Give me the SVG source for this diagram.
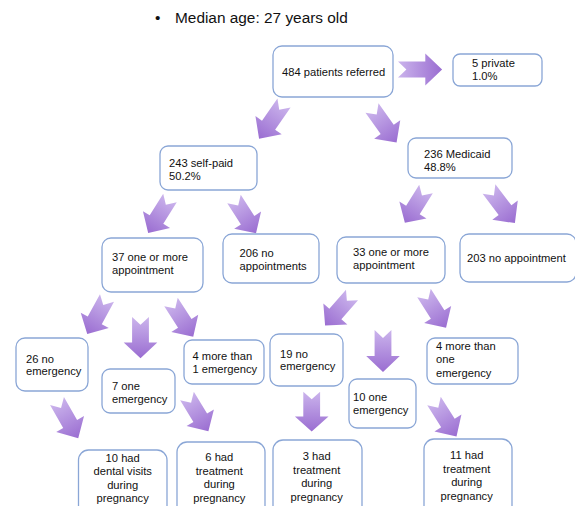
<svg xmlns="http://www.w3.org/2000/svg" xmlns:xlink="http://www.w3.org/1999/xlink" width="575" height="506" viewBox="0 0 575 506">
<style>
text{font-family:"Liberation Sans",Arial,sans-serif;font-size:11.2px;fill:#111}
.b{fill:#fff;stroke:#8aa6d6;stroke-width:1.3}
.c{text-anchor:middle}
.t{font-size:15.4px}
</style>
<defs>
<linearGradient id="g" x1="0" y1="0" x2="1" y2="0">
<stop offset="0" stop-color="#cbb4ec"/>
<stop offset="1" stop-color="#9a6dd1"/>
</linearGradient>
<path id="arr" d="M0,-8 L26,-8 L26,-16 L42,0 L26,16 L26,8 L0,8 L8,0 Z" fill="url(#g)"/>
</defs>
<rect width="575" height="506" fill="#fff"/>
<g id="title">
<text class="t" x="155" y="22.5">•</text>
<text class="t" x="175" y="22.5">Median age: 27 years old</text>
</g>
<g id="connectors">
<use xlink:href="#arr" href="#arr" transform="translate(398,69.5) rotate(0) scale(1.05,1)"/>
<use xlink:href="#arr" href="#arr" transform="translate(284,103) rotate(124.8) scale(1.04,1)"/>
<use xlink:href="#arr" href="#arr" transform="translate(372,108) rotate(54.6) scale(1.01,1)"/>
<use xlink:href="#arr" href="#arr" transform="translate(170,198) rotate(122) scale(0.98,1)"/>
<use xlink:href="#arr" href="#arr" transform="translate(234,199) rotate(57.3) scale(0.97,1)"/>
<use xlink:href="#arr" href="#arr" transform="translate(107,298) rotate(118.7) scale(0.98,1)"/>
<use xlink:href="#arr" href="#arr" transform="translate(140.5,317) rotate(90) scale(0.98,1.05)"/>
<use xlink:href="#arr" href="#arr" transform="translate(171,302) rotate(57.3) scale(0.98,1)"/>
<use xlink:href="#arr" href="#arr" transform="translate(426,189) rotate(122) scale(0.95,1)"/>
<use xlink:href="#arr" href="#arr" transform="translate(489,189) rotate(52.8) scale(1.02,1)"/>
<use xlink:href="#arr" href="#arr" transform="translate(352,295) rotate(131.3) scale(0.97,1)"/>
<use xlink:href="#arr" href="#arr" transform="translate(383,330) rotate(90) scale(1,1.05)"/>
<use xlink:href="#arr" href="#arr" transform="translate(424,293) rotate(57.6) scale(0.98,1)"/>
<use xlink:href="#arr" href="#arr" transform="translate(57,401) rotate(60.3) scale(1.02,1)"/>
<use xlink:href="#arr" href="#arr" transform="translate(187,396) rotate(58.7) scale(0.98,1)"/>
<use xlink:href="#arr" href="#arr" transform="translate(311.7,391.7) rotate(90) scale(0.95,1.05)"/>
<use xlink:href="#arr" href="#arr" transform="translate(434,401) rotate(57.6) scale(1,1)"/>
</g>
<g id="n484"><rect class="b" x="273" y="46" width="120" height="51" rx="9"/><text x="282" y="76">484 patients referred</text></g>
<g id="n5"><rect class="b" x="453" y="54" width="89" height="32" rx="7"/><text x="472" y="67">5 private</text><text x="472" y="80">1.0%</text></g>
<g id="n243"><rect class="b" x="160" y="146" width="97" height="44" rx="8"/><text x="169" y="167">243 self-paid</text><text x="169" y="179.5">50.2%</text></g>
<g id="n236"><rect class="b" x="408" y="138" width="104" height="40" rx="8"/><text x="424" y="158">236 Medicaid</text><text x="424" y="171">48.8%</text></g>
<g id="n37"><rect class="b" x="102" y="238" width="101" height="54" rx="9"/><text x="112" y="261">37 one or more</text><text x="112" y="273.5">appointment</text></g>
<g id="n206"><rect class="b" x="223" y="234" width="96" height="49" rx="9"/><text x="239.5" y="257">206 no</text><text x="239.5" y="270">appointments</text></g>
<g id="n33"><rect class="b" x="337" y="237" width="108" height="46" rx="9"/><text x="353" y="256">33 one or more</text><text x="353" y="268.5">appointment</text></g>
<g id="n203"><rect class="b" x="460" y="234" width="116" height="48" rx="9"/><text x="467" y="261.5">203 no appointment</text></g>
<g id="n26"><rect class="b" x="16" y="338" width="72" height="53" rx="9"/><text x="26" y="362.5">26 no</text><text x="26" y="375">emergency</text></g>
<g id="n4a"><rect class="b" x="184" y="340" width="80" height="44" rx="8"/><text x="192.5" y="360">4 more than</text><text x="192.5" y="373">1 emergency</text></g>
<g id="n19"><rect class="b" x="270" y="334" width="73" height="52" rx="9"/><text x="280" y="357.5">19 no</text><text x="280" y="370">emergency</text></g>
<g id="n4b"><rect class="b" x="427" y="338" width="91" height="46" rx="8"/><text x="436" y="350">4 more than</text><text x="436" y="363">one</text><text x="436" y="376.5">emergency</text></g>
<g id="n7"><rect class="b" x="102" y="369" width="73" height="44" rx="8"/><text x="112" y="390">7 one</text><text x="112" y="403">emergency</text></g>
<g id="n10e"><rect class="b" x="349" y="379" width="67" height="49" rx="8"/><text x="353" y="401">10 one</text><text x="353" y="414">emergency</text></g>
<g id="n10h"><rect class="b" x="78.5" y="450" width="88.5" height="70" rx="10"/><text class="c" x="122.7" y="461.5">10 had</text><text class="c" x="122.7" y="475">dental visits</text><text class="c" x="122.7" y="488.5">during</text><text class="c" x="122.7" y="502">pregnancy</text></g>
<g id="n6h"><rect class="b" x="177" y="442" width="88" height="78" rx="10"/><text class="c" x="219.3" y="461">6 had</text><text class="c" x="219.3" y="474.5">treatment</text><text class="c" x="219.3" y="488">during</text><text class="c" x="219.3" y="501.5">pregnancy</text></g>
<g id="n3h"><rect class="b" x="273" y="440" width="89" height="80" rx="10"/><text class="c" x="316.7" y="460">3 had</text><text class="c" x="316.7" y="473.5">treatment</text><text class="c" x="316.7" y="487">during</text><text class="c" x="316.7" y="500.5">pregnancy</text></g>
<g id="n11h"><rect class="b" x="424" y="439" width="88" height="81" rx="10"/><text class="c" x="466.7" y="458.5">11 had</text><text class="c" x="466.7" y="472.5">treatment</text><text class="c" x="466.7" y="486">during</text><text class="c" x="466.7" y="500">pregnancy</text></g>
</svg>
